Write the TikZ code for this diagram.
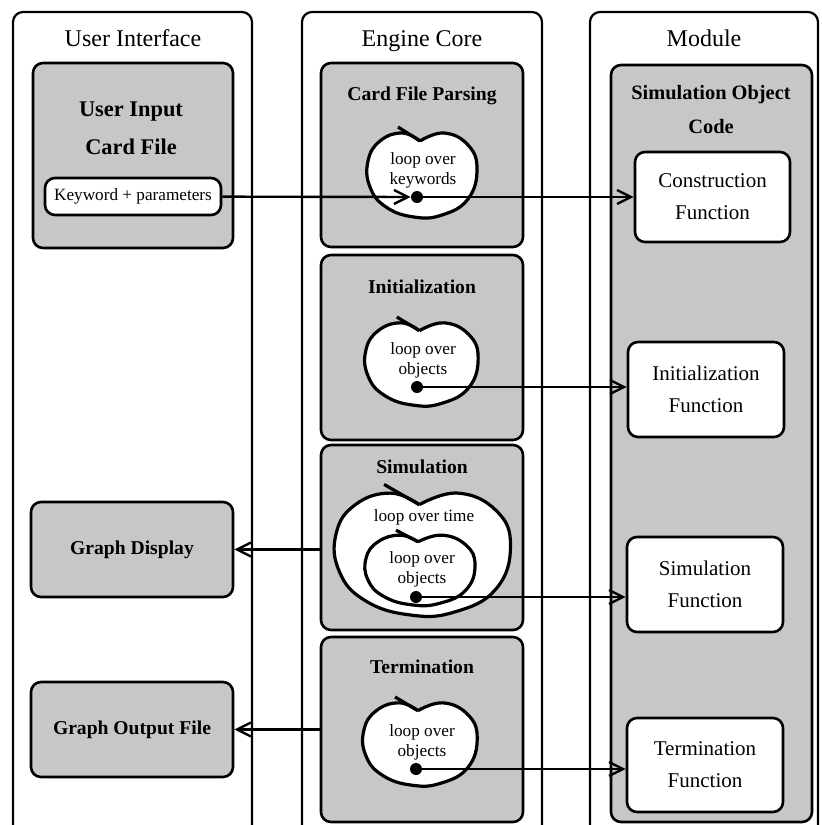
\documentclass[tikz,border=0pt]{standalone}
\usepackage{fontspec}
\setmainfont{Liberation Serif}
\usetikzlibrary{arrows.meta,positioning,calc}

\definecolor{stipple}{gray}{0.78}

\tikzset{
  loopblob/.pic={
    % kidney-shaped loop, notch on top
    \draw[line width=1.6pt, fill=white] plot[smooth, tension=0.75] coordinates
      {(-2,-34) (22,-42) (46,-30) (55,-6) (46,24) (20,40) (-8,42) (-36,32)
       (-52,12) (-54,-14) (-42,-34) (-20,-42) (-2,-34)};
    \draw[line width=1.6pt] (-2,-34) -- (-24,-48);
  }
}

\begin{document}
\begin{tikzpicture}[x=0.5pt, y=-0.5pt,
    column/.style={line width=1.1pt, rounded corners=5pt},
    panel/.style={draw, line width=1.3pt, rounded corners=5pt, fill=stipple, inner sep=0pt},
    fnbox/.style={draw, line width=1.3pt, rounded corners=5pt, fill=white, inner sep=0pt,
      align=center, font=\fontsize{10.5}{16}\selectfont},
    coltitle/.style={font=\fontsize{12}{14}\selectfont, anchor=base},
    heading/.style={font=\bfseries\fontsize{9.8}{17}\selectfont, align=center},
    looptext/.style={font=\fontsize{8.6}{10}\selectfont, align=center},
    dot/.style={circle, fill, inner sep=0pt, minimum size=6pt},
    conn/.style={line width=1.2pt, -{Straight Barb[length=7pt, width=7pt]}}]
  \useasboundingbox (0,0) rectangle (822,825);

  % Columns
  \draw[column] (13,825) -- (13,12) -- (252,12) -- (252,825);
  \draw[column] (302,825) -- (302,12) -- (542,12) -- (542,825);
  \draw[column] (590,825) -- (590,12) -- (818,12) -- (818,825);
  \node[coltitle] (uititle) at (133,46) {User Interface};
  \node[coltitle] (coretitle) at (422,46) {Engine Core};
  \node[coltitle] (modtitle) at (704,46) {Module};

  % User interface side
  \node[panel, minimum width=100pt, minimum height=92.5pt] (cardbox) at (133,155.5) {};
  \node[heading, font=\bfseries\fontsize{11.2}{19}\selectfont] (cardtext) at (131,128) {User Input\\Card File};
  \node[fnbox, minimum width=88pt, minimum height=18.5pt, font=\fontsize{8.6}{10}\selectfont] (kw) at (133,196.5) {Keyword + parameters};
  \node[panel, minimum width=101pt, minimum height=47.5pt, heading] (gdisp) at (132,549.5) {Graph Display};
  \node[panel, minimum width=101pt, minimum height=47.5pt, heading] (gout) at (132,729.5) {Graph Output File};

  % Engine core stages
  \node[panel, minimum width=101pt, minimum height=92pt] (parsebox) at (422,155) {};
  \node[panel, minimum width=101pt, minimum height=92.5pt] (initbox) at (422,347.5) {};
  \node[panel, minimum width=101pt, minimum height=92.5pt] (simbox) at (422,537.5) {};
  \node[panel, minimum width=101pt, minimum height=92.5pt] (termbox) at (422,729.5) {};
  \node[heading] (parsetext) at (422,96) {Card File Parsing};
  \node[heading] (inittext) at (422,287) {Initialization};
  \node[heading] (simtext) at (422,467) {Simulation};
  \node[heading] (termtext) at (422,667) {Termination};

  % Loops
  \pic at (422,175) {loopblob};
  \pic[xscale=1.03, yscale=0.98] at (421.5,364) {loopblob};
  \pic[xscale=1.6, yscale=1.45] at (422.5,554) {loopblob};
  \pic[yscale=0.83] at (420,570) {loopblob};
  \pic[xscale=1.04, yscale=0.98] at (420,744) {loopblob};
  \node[looptext] (kwloop) at (423,170) {loop over\\keywords};
  \node[looptext] (initloop) at (423,360) {loop over\\objects};
  \node[looptext] (timeloop) at (424,517) {loop over time};
  \node[looptext] (simloop) at (422,569) {loop over\\objects};
  \node[looptext] (termloop) at (422,742) {loop over\\objects};
  \node[dot] (kwdot) at (417,197) {};
  \node[dot] (initdot) at (417,387) {};
  \node[dot] (simdot) at (416,597) {};
  \node[dot] (termdot) at (416,769) {};

  % Module side
  \node[panel, minimum width=100.5pt, minimum height=378.5pt] (objbox) at (711.5,443.5) {};
  \node[heading, font=\bfseries\fontsize{10.2}{17}\selectfont] (objtext) at (711,110) {Simulation Object\\Code};
  \node[fnbox, minimum width=77.5pt, minimum height=45pt] (constfn) at (712.5,197) {Construction\\Function};
  \node[fnbox, minimum width=78pt, minimum height=47.5pt] (initfn) at (706,389.5) {Initialization\\Function};
  \node[fnbox, minimum width=78pt, minimum height=47.5pt] (simfn) at (705,584.5) {Simulation\\Function};
  \node[fnbox, minimum width=78pt, minimum height=47pt] (termfn) at (705,765) {Termination\\Function};

  % Calls
  \draw[conn] (kw) -- (kwdot);
  \draw[conn] (kwdot) -- (kwdot -| constfn.west);
  \draw[conn] (initdot) -- (initdot -| initfn.west);
  \draw[conn] (simdot) -- (simdot -| simfn.west);
  \draw[conn] (termdot) -- (termdot -| termfn.west);
  \draw[conn] (gdisp.east -| simbox.west) -- (gdisp.east);
  \draw[conn] (gout.east -| termbox.west) -- (gout.east);
\end{tikzpicture}
\end{document}
